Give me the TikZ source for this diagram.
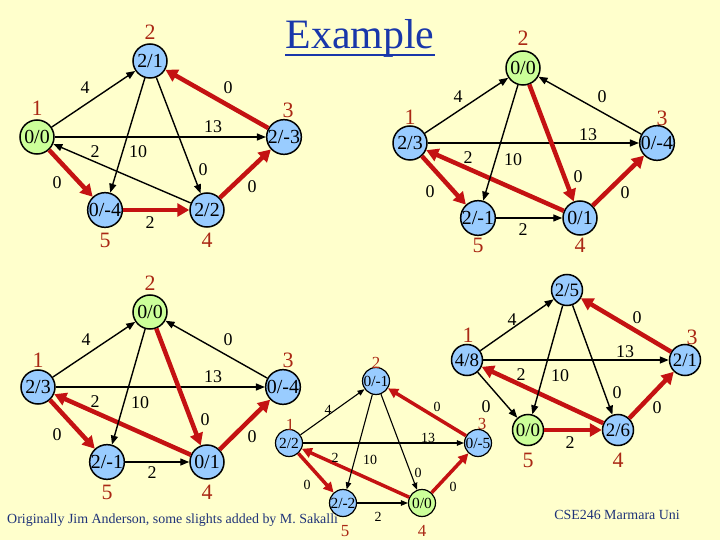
\documentclass[tikz,border=0pt]{standalone}
\usepackage{fontspec}
\setmainfont{Liberation Serif}
\usetikzlibrary{arrows.meta}

\definecolor{bgyellow}{RGB}{255,255,204}
\definecolor{vblue}{RGB}{153,204,255}
\definecolor{vgreen}{RGB}{204,255,153}
\definecolor{ered}{RGB}{196,18,18}
\definecolor{nred}{RGB}{170,40,20}
\definecolor{tblue}{RGB}{25,55,170}
\definecolor{fblue}{RGB}{30,50,120}

\tikzset{
  vtx/.style={circle,draw=black,line width=1.5bp,fill=vblue,minimum size=34bp,inner sep=0pt,
    font=\fontsize{20}{20}\selectfont},
  src/.style={vtx,fill=vgreen},
  nlab/.style={text=nred,inner sep=0pt,font=\fontsize{22}{22}\selectfont},
  elab/.style={inner sep=0pt,font=\fontsize{18}{18}\selectfont},
  bedge/.style={line width=1.4bp,-{Triangle[length=9bp,width=7bp]}},
  redge/.style={draw=ered,line width=4.5bp,-{Triangle[length=12bp,width=13bp]}}
}

\begin{document}
\begin{tikzpicture}[x=1bp,y=-1bp]

  \fill[bgyellow] (0,0) rectangle (720,540);
  \useasboundingbox (0,0) rectangle (720,540);

  % title
  \node[text=tblue,inner sep=0pt,anchor=base,font=\fontsize{42}{42}\selectfont] (title) at (360,49) {Example};
  \draw[tblue,line width=2.5bp] ([yshift=-6bp]title.base west) -- ([yshift=-6bp]title.base east);

  % first graph, top left
  \node[src] (A1) at (37,137) {0/0};
  \node[vtx] (A2) at (150,61) {2/1};
  \node[vtx] (A3) at (284,137) {2/-3};
  \node[vtx] (A4) at (207,210) {2/2};
  \node[vtx] (A5) at (105,210) {0/-4};
  \foreach \n/\x/\y in {1/37/108, 2/150/32, 3/288/110, 4/207/240, 5/105/240}
    \node[nlab] (nA\n) at (\x,\y) {\n};
  \foreach \a/\b/\s/\t/\x/\y in {
      A1/A2/bedge/4/85/88,
      A3/A2/redge/0/228/88,
      A1/A3/bedge/13/213/127,
      A4/A1/bedge/2/95/152,
      A2/A5/bedge/10/138/152,
      A2/A4/bedge/0/203/170,
      A1/A5/redge/0/57/183,
      A5/A4/redge/2/150/223,
      A4/A3/redge/0/252/187}
  {
    \draw[\s] (\a) -- (\b);
    \node[elab] (w\a\b) at (\x,\y) {\t};
  }

  % second graph, top right
  \node[vtx] (B1) at (410,143) {2/3};
  \node[src] (B2) at (523,68) {0/0};
  \node[vtx] (B3) at (657,143) {0/-4};
  \node[vtx] (B4) at (580,218) {0/1};
  \node[vtx] (B5) at (478,218) {2/-1};
  \foreach \n/\x/\y in {1/410/117, 2/523/38, 3/662/118, 4/580/245, 5/478/245}
    \node[nlab] (nB\n) at (\x,\y) {\n};
  \foreach \a/\b/\s/\t/\x/\y in {
      B1/B2/bedge/4/458/97,
      B3/B2/bedge/0/602/97,
      B1/B3/bedge/13/588/135,
      B4/B1/redge/2/468/158,
      B2/B5/bedge/10/513/160,
      B2/B4/redge/0/578/177,
      B1/B5/redge/0/430/192,
      B5/B4/bedge/2/523/230,
      B4/B3/redge/0/625/193}
  {
    \draw[\s] (\a) -- (\b);
    \node[elab] (w\a\b) at (\x,\y) {\t};
  }

  % third graph, bottom left
  \node[vtx] (C1) at (38,387) {2/3};
  \node[src] (C2) at (150,312) {0/0};
  \node[vtx] (C3) at (283,387) {0/-4};
  \node[vtx] (C4) at (207,462) {0/1};
  \node[vtx] (C5) at (107,462) {2/-1};
  \foreach \n/\x/\y in {1/38/360, 2/150/283, 3/288/360, 4/207/492, 5/107/492}
    \node[nlab] (nC\n) at (\x,\y) {\n};
  \foreach \a/\b/\s/\t/\x/\y in {
      C1/C2/bedge/4/86/340,
      C3/C2/bedge/0/228/340,
      C1/C3/bedge/13/213/377,
      C4/C1/redge/2/95/402,
      C2/C5/bedge/10/140/403,
      C2/C4/redge/0/205/420,
      C1/C5/redge/0/57/435,
      C5/C4/bedge/2/152/473,
      C4/C3/redge/0/252/437}
  {
    \draw[\s] (\a) -- (\b);
    \node[elab] (w\a\b) at (\x,\y) {\t};
  }

  % small graph in the middle
  \begin{scope}[
      vtx/.append style={minimum size=27bp,line width=1.2bp,font=\fontsize{15.5}{15.5}\selectfont},
      nlab/.append style={font=\fontsize{17}{17}\selectfont},
      elab/.append style={font=\fontsize{14}{14}\selectfont},
      bedge/.append style={line width=1.1bp,-{Triangle[length=7bp,width=5.5bp]}},
      redge/.append style={line width=3.5bp,-{Triangle[length=10bp,width=10bp]}}]
    \node[vtx] (D1) at (289,443) {2/2};
    \node[vtx] (D2) at (376,381) {0/-1};
    \node[vtx] (D3) at (478,443) {0/-5};
    \node[src] (D4) at (422,503) {0/0};
    \node[vtx] (D5) at (343,503) {2/-2};
    \foreach \n/\x/\y in {1/290/425, 2/376/363, 3/482/424, 4/422/531, 5/345/531}
      \node[nlab] (nD\n) at (\x,\y) {\n};
    \foreach \a/\b/\s/\t/\x/\y in {
        D1/D2/bedge/4/328/410,
        D3/D2/redge/0/437/407,
        D1/D3/bedge/13/428/438,
        D4/D1/redge/2/335/458,
        D2/D5/bedge/10/370/460,
        D2/D4/bedge/0/418/473,
        D1/D5/redge/0/307/485,
        D5/D4/bedge/2/378/517,
        D4/D3/redge/0/453/487}
    {
      \draw[\s] (\a) -- (\b);
      \node[elab] (w\a\b) at (\x,\y) {\t};
    }
  \end{scope}

  % last graph, bottom right
  \begin{scope}[vtx/.append style={minimum size=31bp,font=\fontsize{19}{19}\selectfont}]
    \node[vtx] (E1) at (467,360) {4/8};
    \node[vtx] (E2) at (567,290) {2/5};
    \node[vtx] (E3) at (685,360) {2/1};
    \node[vtx] (E4) at (618,430) {2/6};
    \node[src] (E5) at (528,430) {0/0};
    \foreach \n/\x/\y in {1/468/335, 3/692/337, 4/618/460, 5/528/460}
      \node[nlab] (nE\n) at (\x,\y) {\n};
    \foreach \a/\b/\s/\t/\x/\y in {
        E1/E2/bedge/4/512/320,
        E3/E2/redge/0/637/318,
        E1/E3/bedge/13/625/352,
        E4/E1/redge/2/521/375,
        E2/E5/bedge/10/560/376,
        E2/E4/bedge/0/617/393,
        E1/E5/bedge/0/486/407,
        E5/E4/redge/2/570/443,
        E4/E3/redge/0/657/408}
    {
      \draw[\s] (\a) -- (\b);
      \node[elab] (w\a\b) at (\x,\y) {\t};
    }
  \end{scope}

  % credits
  \node[text=fblue,inner sep=0pt,anchor=west,font=\fontsize{14}{14}\selectfont] (credit) at (7,520)
    {Originally Jim Anderson, some slights added by M. Sakalli};
  \node[text=fblue,inner sep=0pt,font=\fontsize{14}{14}\selectfont] (course) at (617,515) {CSE246 Marmara Uni};

\end{tikzpicture}
\end{document}
